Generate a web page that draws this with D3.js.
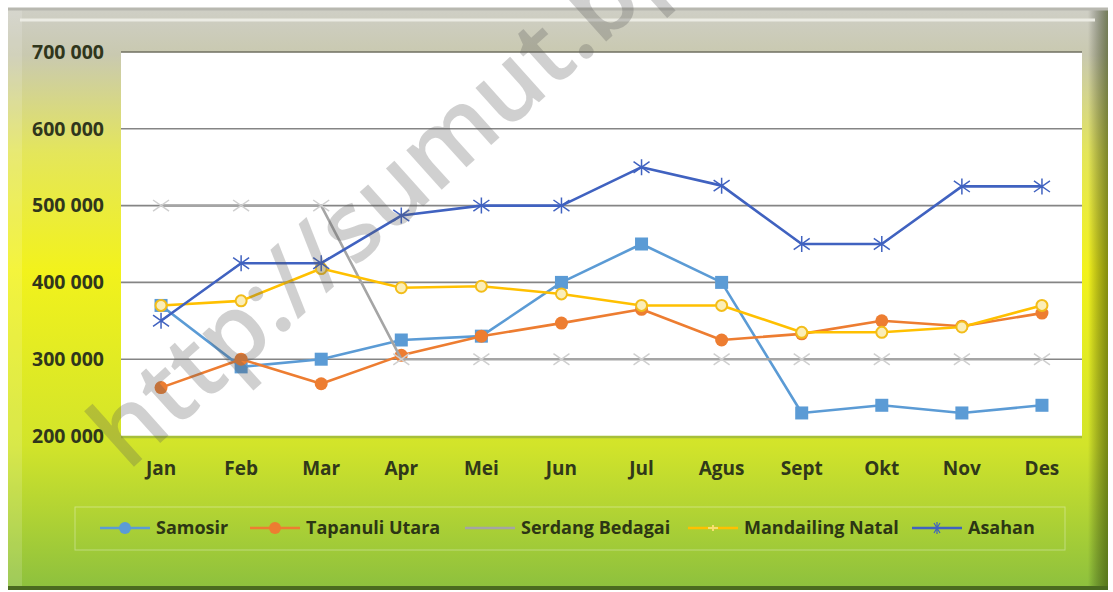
<!DOCTYPE html>
<meta charset="utf-8">
<script src="https://d3js.org/d3.v7.min.js"></script>
<style>
  body { margin: 0; background: #fff; }
  text { font-family: "Open Sans", Lato, sans-serif; }
</style>
<div id="chart"></div>
<script>
// data
var months = ["Jan", "Feb", "Mar", "Apr", "Mei", "Jun", "Jul", "Agus", "Sept", "Okt", "Nov", "Des"];
var yTicks = [200000, 300000, 400000, 500000, 600000, 700000];

var samosir     = [370000, 290000, 300000, 325000, 330000, 400000, 450000, 400000, 230000, 240000, 230000, 240000];
var tapanuli    = [263000, 300000, 268000, 305000, 330000, 347000, 365000, 325000, 333000, 350000, 343000, 360000];
var serdang     = [500000, 500000, 500000, 300000, 300000, 300000, 300000, 300000, 300000, 300000, 300000, 300000];
var mandailing  = [370000, 376000, 418000, 393000, 395000, 385000, 370000, 370000, 335000, 335000, 342000, 370000];
var asahan      = [350000, 425000, 425000, 487000, 500000, 500000, 550000, 526000, 450000, 450000, 525000, 525000];

var seriesNames = ["Samosir", "Tapanuli Utara", "Serdang Bedagai", "Mandailing Natal", "Asahan"];
var seriesValues = [samosir, tapanuli, serdang, mandailing, asahan];
var seriesColors = ["#5b9bd5", "#ed7d31", "#a5a5a5", "#ffc000", "#4062c0"];
var seriesMarkers = ["square", "circle", "cross", "ring", "star"];

var W = 1113, H = 592;
var plot = {left: 121, right: 1082, top: 52, bottom: 436};

var svg = d3.select("#chart").append("svg")
    .attr("width", W)
    .attr("height", H);

var defs = svg.append("defs");
var bg = defs.append("linearGradient").attr("id", "bg")
    .attr("x1", 0).attr("y1", 0).attr("x2", 0).attr("y2", 1);
bg.append("stop").attr("offset", "0%").attr("stop-color", "#cfcfc6");
bg.append("stop").attr("offset", "8%").attr("stop-color", "#c9c9b0");
bg.append("stop").attr("offset", "25%").attr("stop-color", "#e4e65a");
bg.append("stop").attr("offset", "45%").attr("stop-color", "#f2f21c");
bg.append("stop").attr("offset", "75%").attr("stop-color", "#d2e42a");
bg.append("stop").attr("offset", "100%").attr("stop-color", "#8cc03e");

var side = defs.append("linearGradient").attr("id", "side")
    .attr("x1", 0).attr("y1", 0).attr("x2", 1).attr("y2", 0);
side.append("stop").attr("offset", "0%").attr("stop-color", "#000").attr("stop-opacity", 0);
side.append("stop").attr("offset", "100%").attr("stop-color", "#2a3a00").attr("stop-opacity", 0.55);

// frame
svg.append("rect")
    .attr("x", 8).attr("y", 8).attr("width", 1100).attr("height", 582)
    .attr("fill", "url(#bg)");
svg.append("rect")
    .attr("x", 1088).attr("y", 8).attr("width", 20).attr("height", 582)
    .attr("fill", "url(#side)");
svg.append("rect")
    .attr("x", 8).attr("y", 8).attr("width", 14).attr("height", 582)
    .attr("fill", "#ffffff").attr("opacity", 0.15);
svg.append("line")
    .attr("x1", 8).attr("x2", 1108).attr("y1", 9).attr("y2", 9)
    .attr("stroke", "#b8b8b0").attr("stroke-width", 3);
svg.append("line")
    .attr("x1", 20).attr("x2", 1095).attr("y1", 20).attr("y2", 20)
    .attr("stroke", "#ecece4").attr("stroke-width", 3);
svg.append("line")
    .attr("x1", 8).attr("x2", 1108).attr("y1", 588).attr("y2", 588)
    .attr("stroke", "#4a6a20").attr("stroke-width", 4);

var x = d3.scaleBand().domain(months).range([plot.left, plot.right]);
var y = d3.scaleLinear().domain([200000, 700000]).range([plot.bottom, plot.top]);
var cx = function(i) { return x(months[i]) + x.bandwidth() / 2; };

svg.append("rect")
    .attr("x", plot.left).attr("y", plot.top)
    .attr("width", plot.right - plot.left).attr("height", plot.bottom - plot.top)
    .attr("fill", "#fff");

// gridlines
svg.append("g").selectAll("line")
    .data(yTicks.slice(1))
    .enter().append("line")
    .attr("x1", plot.left).attr("x2", plot.right)
    .attr("y1", function(d) { return y(d); })
    .attr("y2", function(d) { return y(d); })
    .attr("stroke", function(d) { return d == 700000 ? "#6f6f60" : "#858585"; })
    .attr("stroke-width", 1.6);
svg.append("line")
    .attr("x1", plot.left).attr("x2", plot.right)
    .attr("y1", y(200000) + 1).attr("y2", y(200000) + 1)
    .attr("stroke", "#a6bf3a").attr("stroke-width", 2.5);

var fmt = function(d) { return d3.format(",")(d).replace(/,/g, " "); };

svg.append("g").selectAll("text")
    .data(yTicks)
    .enter().append("text")
    .attr("x", 104)
    .attr("y", function(d) { return y(d); })
    .attr("dy", "0.35em")
    .attr("text-anchor", "end")
    .style("font-size", "19.5px")
    .style("font-weight", "bold")
    .style("fill", "#30361c")
    .text(fmt);

svg.append("g").selectAll("text")
    .data(months)
    .enter().append("text")
    .attr("x", function(d) { return x(d) + x.bandwidth() / 2; })
    .attr("y", 468)
    .attr("dy", "0.35em")
    .attr("text-anchor", "middle")
    .style("font-size", "19px")
    .style("font-weight", "bold")
    .style("fill", "#30381a")
    .text(function(d) { return d; });

function drawMarker(g, type, color, px, py, s) {
  if (type == "square") {
    g.append("rect").attr("x", px - s).attr("y", py - s)
      .attr("width", 2 * s).attr("height", 2 * s).attr("fill", color);
  } else if (type == "circle") {
    g.append("circle").attr("cx", px).attr("cy", py).attr("r", s).attr("fill", color);
  } else if (type == "ring") {
    g.append("circle").attr("cx", px).attr("cy", py).attr("r", s - 1)
      .attr("fill", "#fbeeb8").attr("stroke", "#f2bd1a").attr("stroke-width", 2);
  } else if (type == "cross") {
    g.append("path")
      .attr("d", "M" + (px - s) + "," + (py - s * 0.7) + "L" + (px + s) + "," + (py + s * 0.7) +
                 "M" + (px - s) + "," + (py + s * 0.7) + "L" + (px + s) + "," + (py - s * 0.7))
      .attr("stroke", "#cfcfcf").attr("stroke-width", 1.5).attr("fill", "none");
  } else if (type == "star") {
    g.append("path")
      .attr("d", "M" + (px - s) + "," + (py - s * 0.7) + "L" + (px + s) + "," + (py + s * 0.7) +
                 "M" + (px - s) + "," + (py + s * 0.7) + "L" + (px + s) + "," + (py - s * 0.7) +
                 "M" + px + "," + (py - s) + "L" + px + "," + (py + s))
      .attr("stroke", color).attr("stroke-width", 1.5).attr("fill", "none");
  }
}

var markerSize = [6.5, 6.5, 8, 6.5, 8];

var line = d3.line()
    .x(function(d, i) { return cx(i); })
    .y(function(d) { return y(d); });

seriesValues.forEach(function(vals, k) {
  var g = svg.append("g");
  g.append("path")
    .datum(vals)
    .attr("d", line)
    .attr("fill", "none")
    .attr("stroke", seriesColors[k])
    .attr("stroke-width", 2.6)
    .attr("stroke-linejoin", "round");
  vals.forEach(function(v, i) {
    drawMarker(g, seriesMarkers[k], seriesColors[k], cx(i), y(v), markerSize[k]);
  });
});

// legend
var legendX = [100, 250, 465, 688, 912];
svg.append("rect")
    .attr("x", 75).attr("y", 507).attr("width", 990).attr("height", 43)
    .attr("fill", "none").attr("stroke", "#ffffff").attr("stroke-opacity", 0.35);

seriesNames.forEach(function(name, k) {
  var g = svg.append("g").attr("transform", "translate(" + legendX[k] + ",528)");
  g.append("line").attr("x1", 0).attr("x2", 50).attr("y1", 0).attr("y2", 0)
    .attr("stroke", seriesColors[k]).attr("stroke-width", 2.6);
  if (seriesMarkers[k] == "ring") {
    g.append("path").attr("d", "M20,0L30,0M25,-3L25,3")
      .attr("stroke", "#f6e070").attr("stroke-width", 2);
  } else if (seriesMarkers[k] == "star") {
    g.append("path").attr("d", "M22,-5L28,5M22,5L28,-5M25,-6L25,6")
      .attr("stroke", seriesColors[k]).attr("stroke-width", 1.2);
  } else if (seriesMarkers[k] != "cross") {
    g.append("circle").attr("cx", 25).attr("cy", 0).attr("r", 6).attr("fill", seriesColors[k]);
  }
  g.append("text")
    .attr("x", 56).attr("y", 0).attr("dy", "0.35em")
    .style("font-size", "18px")
    .style("font-weight", "bold")
    .style("fill", "#2c3614")
    .text(name);
});

// watermark
svg.append("text")
    .attr("transform", "translate(128,472) rotate(-42)")
    .style("font-size", "98px")
    .style("font-weight", 600)
    .style("fill", "#5a5a5a")
    .style("opacity", 0.28)
    .text("http://sumut.bps.go.id");
</script>
